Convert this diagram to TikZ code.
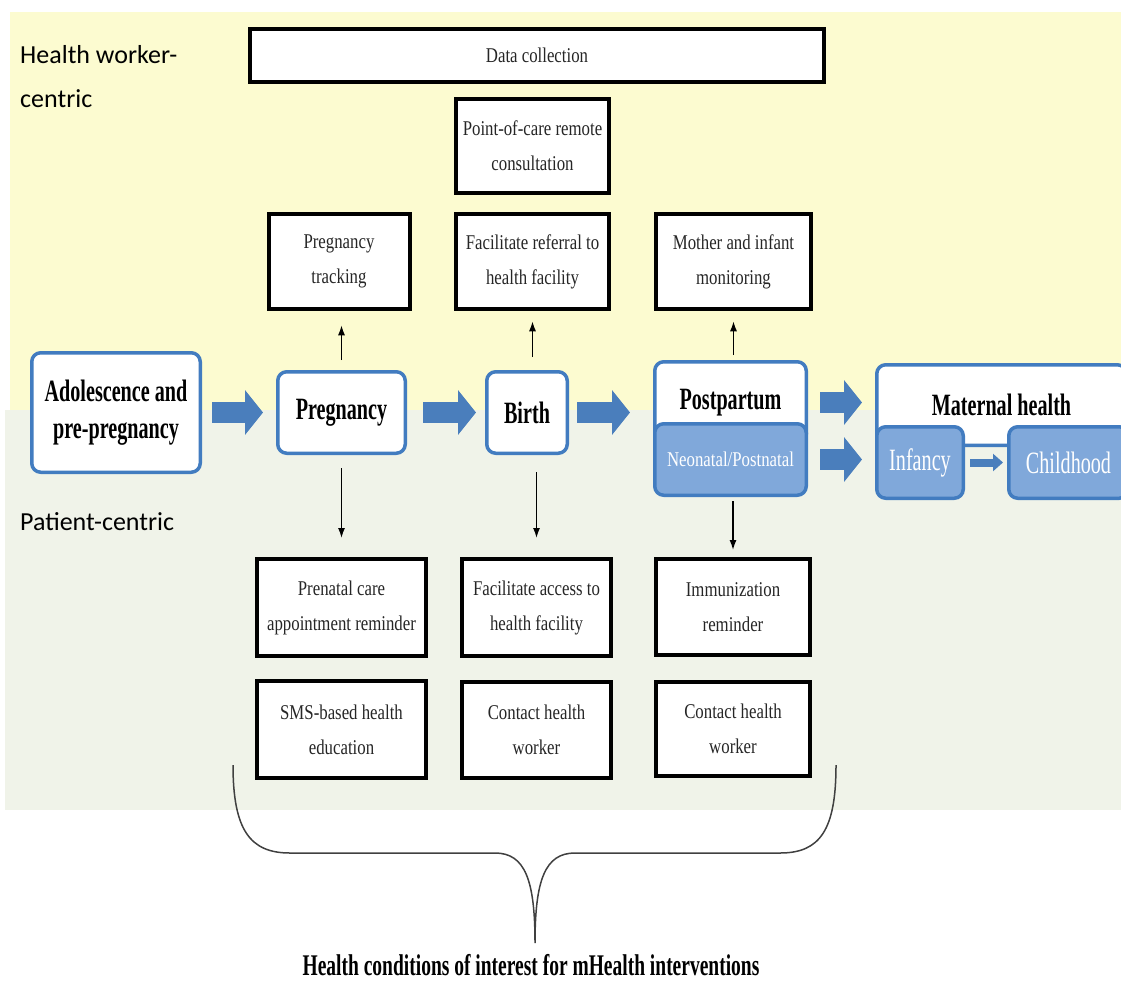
\documentclass[tikz,border=0pt]{standalone}
\usepackage{fontspec}
\setmainfont{Liberation Serif}
\newfontfamily\boxfont[FakeStretch=0.8]{Liberation Serif}
\newfontfamily\stagefont[FakeStretch=0.65]{Liberation Serif}
\newfontfamily\sidefont{Carlito}
\usepackage{xcolor}
\usetikzlibrary{calc,positioning,arrows.meta,shapes,shadows}
\definecolor{bgyellow}{RGB}{252,251,208}
\definecolor{bggreen}{RGB}{240,243,233}
\definecolor{stageblue}{RGB}{66,124,192}
\definecolor{fillblue}{RGB}{128,168,218}
\definecolor{arrowblue}{RGB}{74,126,188}

\begin{document}
\begin{tikzpicture}[x=1pt,y=-1pt,
  task/.style={draw=black,line width=4pt,fill=white,inner sep=0pt,align=center,
    text=black!85,font=\boxfont\fontsize{21}{35}\selectfont,
    drop shadow={shadow xshift=1.5pt,shadow yshift=-2pt,fill=black!70,opacity=0.6}},
  stage/.style={draw=stageblue,line width=3.5pt,rounded corners=9pt,fill=white,
    inner sep=0pt,align=center,font=\stagefont\bfseries\fontsize{31}{37}\selectfont},
  bluestage/.style={stage,fill=fillblue,text=white,font=\stagefont\fontsize{31}{37}\selectfont},
  bigarrow/.style={arrowblue,line width=21pt,-{Triangle[length=18pt,width=44pt]}},
  tinyarrow/.style={arrowblue,line width=8pt,-{Triangle[length=10pt,width=17pt]}},
  smallarrow/.style={line width=1.4pt,-{Latex[length=10pt,width=7pt]}}]
\useasboundingbox (0,0) rectangle (1121,983);
\clip (0,0) rectangle (1121,983);
% the two bands
\fill[bgyellow] (10,12) rectangle (1125,410);
\fill[bggreen] (5,410) rectangle (1125,810);
\node[font=\sidefont\fontsize{26}{44}\selectfont,align=left,anchor=north west,inner sep=0pt] (hwc) at (20,45) {Health worker-\\centric};
\node[font=\sidefont\fontsize{26}{32}\selectfont,anchor=base west,inner sep=0pt] (pc) at (20,530) {Patient-centric};

% health worker side
\node[task,minimum width=574pt,minimum height=53pt] (dcol) at (537,55.5) {Data collection};
\node[task,minimum width=153pt,minimum height=94pt] (poc) at (532.5,146) {Point-of-care remote\\consultation};
\node[task,minimum width=141pt,minimum height=95.5pt] (ptrack) at (339,261.5) {Pregnancy\\tracking};
\node[task,minimum width=153.5pt,minimum height=95.5pt] (fref) at (532.5,261.5) {Facilitate referral to\\health facility};
\node[task,minimum width=155pt,minimum height=95.5pt] (minf) at (733.5,261.5) {Mother and infant\\monitoring};

% stages
\node[stage,minimum width=168.5pt,minimum height=119.5pt] (adol) at (116,412.5) {Adolescence and\\pre-pregnancy};
\node[stage,minimum width=127.5pt,minimum height=81.5pt] (preg) at (341.5,412.5) {Pregnancy};
\node[stage,minimum width=80.5pt,minimum height=81.5pt] (birth) at (527,412.5) {Birth};
\node[stage,minimum width=151.5pt,minimum height=81.5pt] (pp) at (730.5,402.5) {Postpartum};
\node[bluestage,minimum width=151.5pt,minimum height=71.5pt,font=\boxfont\fontsize{21}{25}\selectfont] (neo) at (730.5,459.5) {Neonatal/Postnatal};
\node[stage,minimum width=249.5pt,minimum height=80.5pt] (mat) at (1001.5,405) {Maternal health};
\node[bluestage,minimum width=86.5pt,minimum height=71.5pt] (inf) at (920,462.5) {Infancy};
\node[bluestage,minimum width=119.5pt,minimum height=71.5pt] (child) at (1068.5,462.5) {Childhood};

\draw[bigarrow,shorten <=10pt,shorten >=13pt] (adol.east) -- (preg.west);
\draw[bigarrow,shorten <=16pt,shorten >=9pt] (preg.east) -- (birth.west);
\draw[bigarrow,shorten <=8pt,shorten >=23pt] (birth.east) -- (birth.east -| pp.west);
\draw[bigarrow,shorten <=12pt,shorten >=13pt] (pp.east) -- (pp.east -| mat.west);
\draw[bigarrow,shorten <=12pt,shorten >=13pt] (neo.east) -- (neo.east -| inf.west);
\draw[tinyarrow,shorten <=5pt,shorten >=4pt] (inf.east) -- (child.west);

% patient side
\node[task,minimum width=169pt,minimum height=97pt] (prenatal) at (341.5,607.5) {Prenatal care\\appointment reminder};
\node[task,minimum width=169pt,minimum height=97pt] (sms) at (341.5,729.5) {SMS-based health\\education};
\node[task,minimum width=149pt,minimum height=97pt] (faccess) at (536.5,607.5) {Facilitate access to\\health facility};
\node[task,minimum width=149pt,minimum height=96pt] (contact1) at (536.5,730) {Contact health\\worker};
\node[task,minimum width=154pt,minimum height=96pt] (immun) at (733,607) {Immunization\\reminder};
\node[task,minimum width=154pt,minimum height=94pt] (contact2) at (733,729) {Contact health\\worker};

\draw[smallarrow,shorten <=10pt,shorten >=14pt] (preg.north) -- (preg.north |- ptrack.south);
\draw[smallarrow,shorten <=13pt,shorten >=10pt] (fref.south |- birth.north) -- (fref.south);
\draw[smallarrow,shorten <=5pt,shorten >=10pt] (minf.south |- pp.north) -- (minf.south);
\draw[smallarrow,shorten <=13pt,shorten >=19pt] (preg.south) -- (preg.south |- prenatal.north);
\draw[smallarrow,shorten <=17pt,shorten >=19pt] (faccess.north |- birth.south) -- (faccess.north);
\draw[smallarrow,shorten <=4pt,shorten >=7pt] (immun.north |- neo.south) -- (immun.north);

% brace and caption
\coordinate (tip) at (535,943);
\draw[black!75,line width=1.5pt] (233,765) .. controls (233,830) and (250,853) .. (290,853)
  -- (495,853) .. controls (525,853) and (535,880) .. (tip)
  .. controls (535,880) and (545,853) .. (575,853)
  -- (780,853) .. controls (820,853) and (836,830) .. (836,765);
\node[font=\stagefont\bfseries\fontsize{30}{36}\selectfont,anchor=base,inner sep=0pt] (cap) at (531,975) {Health conditions of interest for mHealth interventions};
\end{tikzpicture}
\end{document}
